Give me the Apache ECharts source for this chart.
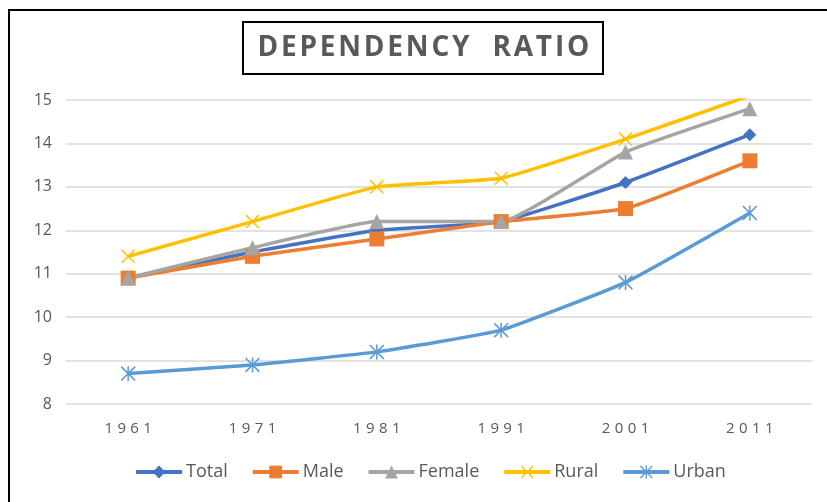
<!DOCTYPE html>
<html>
<head>
<meta charset="utf-8">
<script src="https://cdn.jsdelivr.net/npm/echarts@6/dist/echarts.min.js"></script>
<style>
  html, body { margin: 0; padding: 0; background: #fff; }
  #chart { width: 827px; height: 502px; }
</style>
</head>
<body>
<div id="chart"></div>
<script>
  // data
  const years = ['1961', '1971', '1981', '1991', '2001', '2011']
  const total = [10.9, 11.5, 12.0, 12.2, 13.1, 14.2]
  const male = [10.9, 11.4, 11.8, 12.2, 12.5, 13.6]
  const female = [10.9, 11.6, 12.2, 12.2, 13.8, 14.8]
  const rural = [11.4, 12.2, 13.0, 13.2, 14.1, 15.1]
  const urban = [8.7, 8.9, 9.2, 9.7, 10.8, 12.4]

  const FONT = 'Open Sans'
  const GREY = '#595959'

  // marker shapes like excel's x and star
  const xPath = 'path://M0 1.5L1.5 0L20 18.5L18.5 20ZM18.5 0L20 1.5L1.5 20L0 18.5Z'
  const starPath = 'path://M0 1.5L1.5 0L20 18.5L18.5 20ZM18.5 0L20 1.5L1.5 20L0 18.5ZM9 0L11 0L11 20L9 20Z'

  // spread letters out a little (rich text per character)
  function spread (str, key) {
    return str.split('').map(c => '{' + key + '|' + c + '}').join('')
  }

  function lineSeries (name, data, color, symbol, size) {
    return {
      name: name,
      type: 'line',
      data: data,
      smooth: 0.12,
      symbol: symbol,
      symbolSize: size,
      symbolKeepAspect: true,
      lineStyle: { color: color, width: 3.5 },
      itemStyle: { color: color },
      clip: true
    }
  }

  const chart = echarts.init(document.getElementById('chart'))
  chart.setOption({
    animation: false,
    graphic: [{
      type: 'rect',
      shape: { x: 9, y: 10, width: 900, height: 600 },
      style: { fill: 'none', stroke: '#000', lineWidth: 2 }
    }],
    title: {
      text: spread('DEPENDENCY  RATIO', 't'),
      left: 241,
      top: 22,
      borderColor: '#000',
      borderWidth: 2,
      padding: [12, 14, 12, 15],
      textStyle: {
        rich: {
          t: { fontFamily: FONT, fontSize: 28, fontWeight: 'bold', color: GREY, padding: [0, 1.4] }
        }
      }
    },
    legend: {
      bottom: 16,
      left: 129,
      itemWidth: 46,
      itemHeight: 16,
      itemGap: 23,
      lineStyle: { width: 4 },
      textStyle: { fontFamily: FONT, fontSize: 18, color: GREY, padding: [0, 0, 0, -1] },
      data: ['Total', 'Male', 'Female', 'Rural', 'Urban']
    },
    grid: {
      left: 66,
      right: 15,
      top: 100,
      bottom: 98,
      containLabel: false
    },
    xAxis: {
      type: 'category',
      data: years,
      boundaryGap: true,
      axisLine: { show: false },
      axisTick: { show: false },
      axisLabel: {
        interval: 0,
        margin: 17,
        formatter: v => spread(v, 'd'),
        rich: {
          d: { fontFamily: FONT, fontSize: 15, color: GREY, padding: [0, 2.2] }
        }
      }
    },
    yAxis: {
      type: 'value',
      min: 8,
      max: 15,
      interval: 1,
      axisLine: { show: false },
      axisTick: { show: false },
      axisLabel: { fontFamily: FONT, fontSize: 16, color: GREY, margin: 14 },
      splitLine: { lineStyle: { color: '#d9d9d9', width: 1.5 } }
    },
    series: [
      lineSeries('Total', total, '#4472C4', 'diamond', 13),
      lineSeries('Male', male, '#ED7D31', 'rect', 15),
      lineSeries('Female', female, '#A5A5A5', 'triangle', 15),
      lineSeries('Rural', rural, '#FFC000', xPath, 14),
      lineSeries('Urban', urban, '#5B9BD5', starPath, 15)
    ]
  })
</script>
</body>
</html>
